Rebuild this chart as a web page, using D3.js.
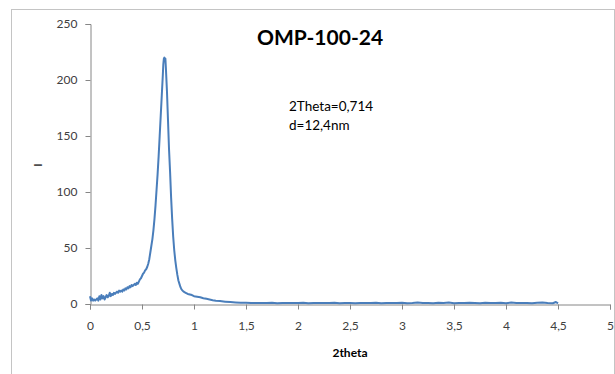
<!DOCTYPE html>
<html><head><meta charset="utf-8">
<script src="https://cdn.jsdelivr.net/npm/d3@7"></script>
<style>body{margin:0;background:#fff}svg{display:block}</style>
</head><body>
<svg id="c" width="615" height="374"></svg>
<script>
const title = "OMP-100-24";
const annotation = ["2Theta=0,714", "d=12,4nm"];
const xLabel = "2theta";
const yLabel = "I";
const xTicks = [0,0.5,1,1.5,2,2.5,3,3.5,4,4.5,5];
const yTicks = [0,50,100,150,200,250];
const twoTheta = [
0.00,0.01,0.02,0.03,0.04,0.05,0.06,0.07,0.08,0.09,0.10,0.11,0.12,0.13,0.14,0.15,0.16,0.17,0.18,0.19,
0.20,0.21,0.22,0.23,0.24,0.25,0.26,0.27,0.28,0.29,0.30,0.31,0.32,0.33,0.34,0.35,0.36,0.37,0.38,0.39,
0.40,0.41,0.42,0.43,0.44,0.45,0.46,0.47,0.48,0.49,0.50,0.51,0.52,0.53,0.54,0.55,0.56,0.57,0.58,0.59,
0.60,0.61,0.62,0.63,0.64,0.65,0.66,0.67,0.68,0.69,0.70,0.705,0.71,0.715,0.72,0.725,0.73,0.74,0.75,0.76,
0.77,0.78,0.79,0.80,0.81,0.82,0.83,0.84,0.85,0.86,0.87,0.88,0.89,0.90,0.92,0.94,0.96,0.98,1.00,1.03,
1.06,1.09,1.12,1.15,1.18,1.21,1.25,1.30,1.35,1.40,1.45,1.50,1.55,1.60,1.65,1.70,1.75,1.80,1.85,1.90,
1.95,2.00,2.05,2.10,2.15,2.20,2.25,2.30,2.35,2.40,2.45,2.50,2.55,2.60,2.65,2.70,2.75,2.80,2.85,2.90,
2.95,3.00,3.05,3.10,3.15,3.20,3.25,3.30,3.35,3.40,3.45,3.50,3.55,3.60,3.65,3.70,3.75,3.80,3.85,3.90,
3.95,4.00,4.05,4.10,4.15,4.20,4.25,4.30,4.35,4.40,4.45,4.48,4.50
];
const intensity = [
7,3,5,3,4,3,4,5,3,7,4,8,5,7,4,6,8,6,7,10,
7,9,8,10,9,10,11,10,12,11,12,11,13,12,14,13,15,14,16,15,
17,16,17,18,17,19,18,20,22,23,25,27,28,30,31,33,36,40,46,52,
58,66,76,88,102,116,132,150,168,186,204,214,219,220,218,219,210,190,164,138,
118,95,76,60,48,39,32,26,21,18,15,13,12,11,10,9,8.5,8,7,6.5,
6,5.2,4.6,4,3.4,3,2.6,2.1,1.7,1.4,1.2,1.1,1.0,0.8,1.0,0.9,1.1,0.7,0.9,1.0,
0.8,1.0,1.2,0.7,0.9,0.8,1.0,0.9,1.2,0.7,1.0,0.9,0.6,1.0,0.8,0.9,1.2,0.7,0.9,1.0,
0.8,1.1,0.7,0.9,1.3,0.8,1.0,0.7,1.1,0.9,1.3,0.6,1.0,0.8,1.2,0.9,0.7,1.1,0.9,0.8,
1.1,0.7,1.3,0.9,0.8,1.0,0.6,1.1,1.4,0.9,0.7,1.8,0.5
];

const svg = d3.select("#c");
const font = "Lato, 'Open Sans', sans-serif";
svg.append("rect").attr("x",11.5).attr("y",9.5).attr("width",603).attr("height",370)
  .attr("fill","#fff").attr("stroke","#c4c4c4").attr("stroke-width",1);

const x = d3.scaleLinear().domain([0,5]).range([90,610]);
const y = d3.scaleLinear().domain([0,250]).range([304,24]);

const xAxis = svg.append("g").attr("transform","translate(0,304.5)")
  .call(d3.axisBottom(x).tickValues(xTicks).tickSize(5).tickPadding(12)
    .tickFormat(d => String(d).replace(".", ",")));
const yAxis = svg.append("g").attr("transform","translate(90.5,0)")
  .call(d3.axisLeft(y).tickValues(yTicks).tickSize(5).tickPadding(8));
[xAxis,yAxis].forEach(g => {
  g.select(".domain").attr("stroke","#868686");
  g.selectAll(".tick line").attr("stroke","#868686");
  g.selectAll("text").attr("fill","#404040").style("font-family",font).style("font-size","12px");
});

const line = d3.line().x((d,i)=>x(twoTheta[i])).y(d=>y(d)).curve(d3.curveLinear);
svg.append("path").datum(intensity).attr("d",line)
  .attr("fill","none").attr("stroke","#4a7ebb").attr("stroke-width",2).attr("stroke-linejoin","round");

svg.append("text").attr("x",320).attr("y",45).attr("text-anchor","middle")
  .style("font-family",font).style("font-weight","bold").style("font-size","21px").attr("fill","#000").text(title);
annotation.forEach((t,i)=>svg.append("text").attr("x",289).attr("y",111+i*19)
  .style("font-family",font).style("font-size","13.5px").attr("fill","#000").text(t));
svg.append("text").attr("x",350).attr("y",357).attr("text-anchor","middle")
  .style("font-family",font).style("font-weight","bold").style("font-size","12px").attr("fill","#000").text(xLabel);
svg.append("text").attr("transform","translate(42,165) rotate(-90)").attr("text-anchor","middle")
  .style("font-family",font).style("font-size","12px").attr("fill","#000").text(yLabel);
</script>
</body></html>
